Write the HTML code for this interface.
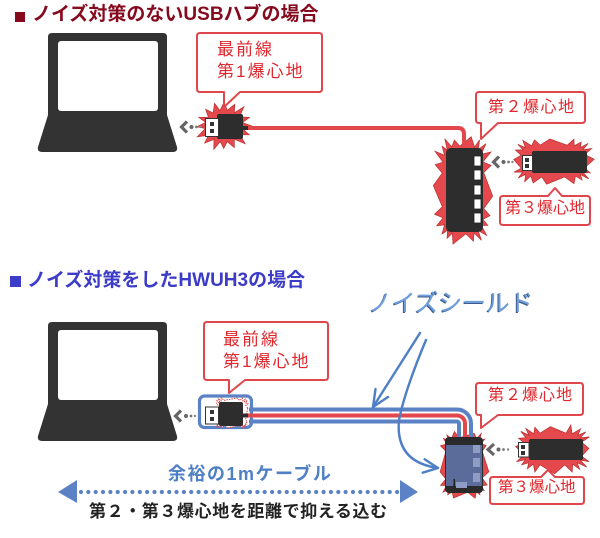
<!DOCTYPE html>
<html><head><meta charset="utf-8">
<style>
html,body{margin:0;padding:0;background:#fff;}
body{width:600px;height:538px;position:relative;overflow:hidden;font-family:"Liberation Sans","Noto Sans CJK JP",sans-serif;}
.t{position:absolute;white-space:nowrap;line-height:1;}
.title1{left:32px;top:5px;font-size:19px;font-weight:bold;color:#860a1e;}
.title2{left:27px;top:271px;font-size:19px;font-weight:bold;color:#3c3cc8;}
.red{color:#e0282e;}
.c1{font-size:17px;letter-spacing:2px;}
.c2{font-size:16px;letter-spacing:1.5px;}
svg{position:absolute;left:0;top:0;}
</style></head>
<body>
<svg width="600" height="538" viewBox="0 0 600 538">
  <rect x="15" y="12" width="10" height="10" fill="#860a1e"/>
  <rect x="10" y="276" width="11" height="11" fill="#3c3cc8"/>

  <g id="laptop">
    <path d="M52,33 H163 Q167,33 167,37 V115 L177,147 Q178,152 173,152 H42 Q37,152 38,147 L48,115 V37 Q48,33 52,33 Z" fill="#333"/>
    <rect x="58" y="41" width="100" height="70" rx="3" fill="#fff"/>
  </g>

  <polygon id="b1" fill="#e5484d" stroke="#b83030" stroke-width="0.7"/>
  <polygon id="b2" fill="#e5484d" stroke="#b83030" stroke-width="0.7"/>
  <polygon id="b3" fill="#e5484d" stroke="#b83030" stroke-width="0.7"/>

  <path d="M246,128 H458 Q464,128 464,134 V150" fill="none" stroke="#e2474b" stroke-width="4"/>

  <rect x="217" y="114" width="26" height="25" rx="2" fill="#2d2d2d"/>
  <rect x="243" y="126" width="5" height="4" fill="#2d2d2d"/>
  <rect x="205.5" y="118.5" width="13" height="18" fill="#fff" stroke="#333" stroke-width="1"/>
  <rect x="210" y="122" width="4" height="4" fill="#333"/>
  <rect x="210" y="129" width="4" height="4" fill="#333"/>
  <polyline points="187,121.5 181.5,127 187,132.5" fill="none" stroke="#666" stroke-width="3.2"/>
  <circle cx="191.5" cy="127" r="2" fill="#666"/>
  <circle cx="196.5" cy="127" r="1.4" fill="#777"/>
  <circle cx="200.5" cy="127" r="1.2" fill="#888"/>

  <rect x="446" y="148" width="37" height="84" rx="5" fill="#2d2d2d"/>
  <g fill="#fff" stroke="#222" stroke-width="0.8">
    <rect x="474" y="156" width="7" height="10"/>
    <rect x="474" y="170" width="7" height="10"/>
    <rect x="474" y="185" width="7" height="10"/>
    <rect x="474" y="199" width="7" height="10"/>
    <rect x="474" y="213" width="7" height="10"/>
  </g>

  <rect x="532" y="151" width="55" height="22" rx="2" fill="#2d2d2d"/>
  <rect x="522.5" y="155.5" width="10" height="15" fill="#fff" stroke="#333" stroke-width="1"/>
  <rect x="525" y="158" width="4" height="4" fill="#333"/>
  <rect x="525" y="164" width="4" height="4" fill="#333"/>
  <polyline points="499,156.5 493.5,162 499,167.5" fill="none" stroke="#666" stroke-width="3.2"/>
  <circle cx="503.5" cy="162" r="2" fill="#666"/>
  <circle cx="508.5" cy="162" r="1.4" fill="#777"/>
  <circle cx="512.5" cy="162" r="1.2" fill="#888"/>

  <g fill="#fff" stroke="#e0474c" stroke-width="2" stroke-linejoin="round">
    <path d="M200,33 H319 Q322,33 322,36 V89 Q322,92 319,92 H240 L224,107 V92 H200 Q197,92 197,89 V36 Q197,33 200,33 Z"/>
    <path d="M479,92 H582 Q585,92 585,95 V120 Q585,123 582,123 H498 L481,139 V123 H479 Q476,123 476,120 V95 Q476,92 479,92 Z"/>
    <path d="M503,196 H548 L555,188 L562,196 H587 Q590,196 590,199 V222 Q590,225 587,225 H503 Q500,225 500,222 V199 Q500,196 503,196 Z"/>
  </g>

  <use href="#laptop" transform="translate(0,289)"/>

  <polygon id="b4" fill="#e5484d" stroke="#b83030" stroke-width="0.7"/>
  <polygon id="b5" fill="#e5484d" stroke="#b83030" stroke-width="0.7"/>

  <rect x="199.5" y="396" width="52" height="31.5" rx="5" fill="#fff" stroke="#5b82c4" stroke-width="3.2"/>
  <polygon id="b6" fill="#fff" stroke="#e04a4a" stroke-width="1" stroke-dasharray="1.5,1"/>

  <path d="M249,409.5 H457 A14,14 0 0 1 471,423.5 V439" fill="none" stroke="#5b82c4" stroke-width="4"/>
  <path d="M246,415.5 H457 A8,8 0 0 1 465,423.5 V439" fill="none" stroke="#e2474b" stroke-width="4"/>
  <path d="M249,421.5 H457 A2,2 0 0 1 459,423.5 V439" fill="none" stroke="#5b82c4" stroke-width="4"/>

  <rect x="219" y="402" width="24" height="24" rx="2" fill="#2d2d2d"/>
  <rect x="243" y="413.5" width="5" height="4" fill="#2d2d2d"/>
  <rect x="205.5" y="407" width="13" height="17" fill="#fff" stroke="#333" stroke-width="1"/>
  <rect x="210" y="410" width="4" height="4" fill="#333"/>
  <rect x="210" y="417" width="4" height="4" fill="#333"/>
  <polyline points="181,410.5 175.5,416 181,421.5" fill="none" stroke="#666" stroke-width="3.2"/>
  <circle cx="186" cy="416" r="2" fill="#666"/>
  <circle cx="191" cy="416" r="1.4" fill="#777"/>
  <circle cx="195" cy="416" r="1.2" fill="#888"/>

  <rect x="445" y="437" width="38" height="56" rx="4" fill="#2a2a2a"/>
  <rect x="446" y="445" width="36" height="41" fill="#5c6c9a"/>
  <g fill="#8f9dc4">
    <rect x="473" y="445" width="7" height="8"/>
    <rect x="473" y="458" width="7" height="9"/>
    <rect x="473" y="473" width="7" height="9"/>
    <rect x="456" y="482" width="11" height="6"/>
  </g>
  <rect x="453.5" y="479" width="1.5" height="8" fill="#222"/>

  <rect x="529" y="439" width="54" height="21" rx="2" fill="#2d2d2d"/>
  <rect x="518.5" y="442.5" width="10.5" height="14.5" fill="#fff" stroke="#333" stroke-width="1"/>
  <rect x="521" y="445" width="4" height="4" fill="#333"/>
  <rect x="521" y="451" width="4" height="4" fill="#333"/>
  <polyline points="494,444 488,449.5 494,455" fill="none" stroke="#666" stroke-width="3.2"/>
  <circle cx="498.5" cy="449.5" r="2" fill="#666"/>
  <circle cx="503.5" cy="449.5" r="1.4" fill="#777"/>
  <circle cx="508" cy="449.5" r="1.2" fill="#888"/>

  <g fill="#fff" stroke="#e0474c" stroke-width="2" stroke-linejoin="round">
    <path d="M207,322 H325 Q328,322 328,325 V377 Q328,380 325,380 H245 L229,393 V380 H207 Q204,380 204,377 V325 Q204,322 207,322 Z"/>
    <path d="M479,383 H580 Q583,383 583,386 V412 Q583,415 580,415 H498 L481,428 V415 H479 Q476,415 476,412 V386 Q476,383 479,383 Z"/>
    <path d="M493,477 H541 L548,470 L555,477 H581 Q584,477 584,480 V501 Q584,504 581,504 H493 Q490,504 490,501 V480 Q490,477 493,477 Z"/>
  </g>

  <g fill="none" stroke="#4f7fc4" stroke-width="2.4" stroke-linecap="round" stroke-linejoin="round">
    <path d="M420,333 L373,407"/>
    <path d="M375.5,389 L373,407 L388,397"/>
    <path d="M426,340 Q405,390 399,420 Q395,462 438,468"/>
    <path d="M424.6,459.3 L438,468 L422.7,472.7"/>
  </g>

  <polygon points="58,492 77,480 77,503" fill="#5b82c4"/>
  <polygon points="418,492 400,480 400,503" fill="#5b82c4"/>
  <g id="dots" fill="#5b82c4"></g>
</svg>

<div class="t title1">ノイズ対策のないUSBハブの場合</div>
<div class="t title2">ノイズ対策をしたHWUH3の場合</div>

<div class="t red c1" style="left:217px;top:41px;">最前線</div>
<div class="t red c1" style="left:217px;top:63px;">第1爆心地</div>
<div class="t red c2" style="left:488px;top:100px;">第２爆心地</div>
<div class="t red c2" style="left:505px;top:201px;letter-spacing:0;">第３爆心地</div>

<div class="t red c1" style="left:223px;top:331px;">最前線</div>
<div class="t red c1" style="left:223px;top:353px;">第1爆心地</div>
<div class="t red c2" style="left:488px;top:388px;letter-spacing:1px;">第２爆心地</div>
<div class="t red c2" style="left:498px;top:480px;font-size:15.5px;letter-spacing:0;">第３爆心地</div>

<div class="t" style="left:368px;top:292px;font-size:24px;letter-spacing:-0.3px;color:#6e9edc;text-shadow:-1px 1px 0 #3d5a8a;">ノイズシールド</div>
<div class="t" style="left:168px;top:465px;font-size:18px;font-weight:bold;letter-spacing:1.5px;color:#4f7fc4;">余裕の1mケーブル</div>
<div class="t" style="left:89px;top:503px;font-size:17px;font-weight:bold;letter-spacing:0.6px;color:#222;">第２・第３爆心地を距離で抑える込む</div>

<script>
function burst(id,cx,cy,rx,ry,sp,n,e,seed){
  var s=seed;
  function R(){s=(s*9301+49297)%233280;return s/233280;}
  var pts=[],N=n*2;
  for(var i=0;i<N;i++){
    var a=i/N*Math.PI*2+(R()-0.5)*0.08;
    var c=Math.cos(a),si=Math.sin(a);
    var ex=(c<0?-1:1)*Math.pow(Math.abs(c),e),ey=(si<0?-1:1)*Math.pow(Math.abs(si),e);
    var k=(i%2==0)?sp*(0.65+0.55*R()):-sp*0.15;
    pts.push((cx+rx*ex+k*c).toFixed(1)+','+(cy+ry*ey+k*si).toFixed(1));
  }
  document.getElementById(id).setAttribute('points',pts.join(' '));
}
burst('b1',224,126,20,17,8,16,1,7);
burst('b2',463,190,22,45,8,22,0.5,13);
burst('b3',553,161,33,17,7,20,0.5,29);
burst('b4',464,465,19,28,5,18,0.4,41);
burst('b5',553,449,30,17,7,20,0.5,57);
burst('b6',232,413,14,13,2.5,20,0.3,71);
var g=document.getElementById('dots'),h='';
for(var x=81;x<=398;x+=7.35){h+='<circle cx="'+x.toFixed(1)+'" cy="492" r="2.1"/>';}
g.innerHTML=h;
</script>
</body></html>
